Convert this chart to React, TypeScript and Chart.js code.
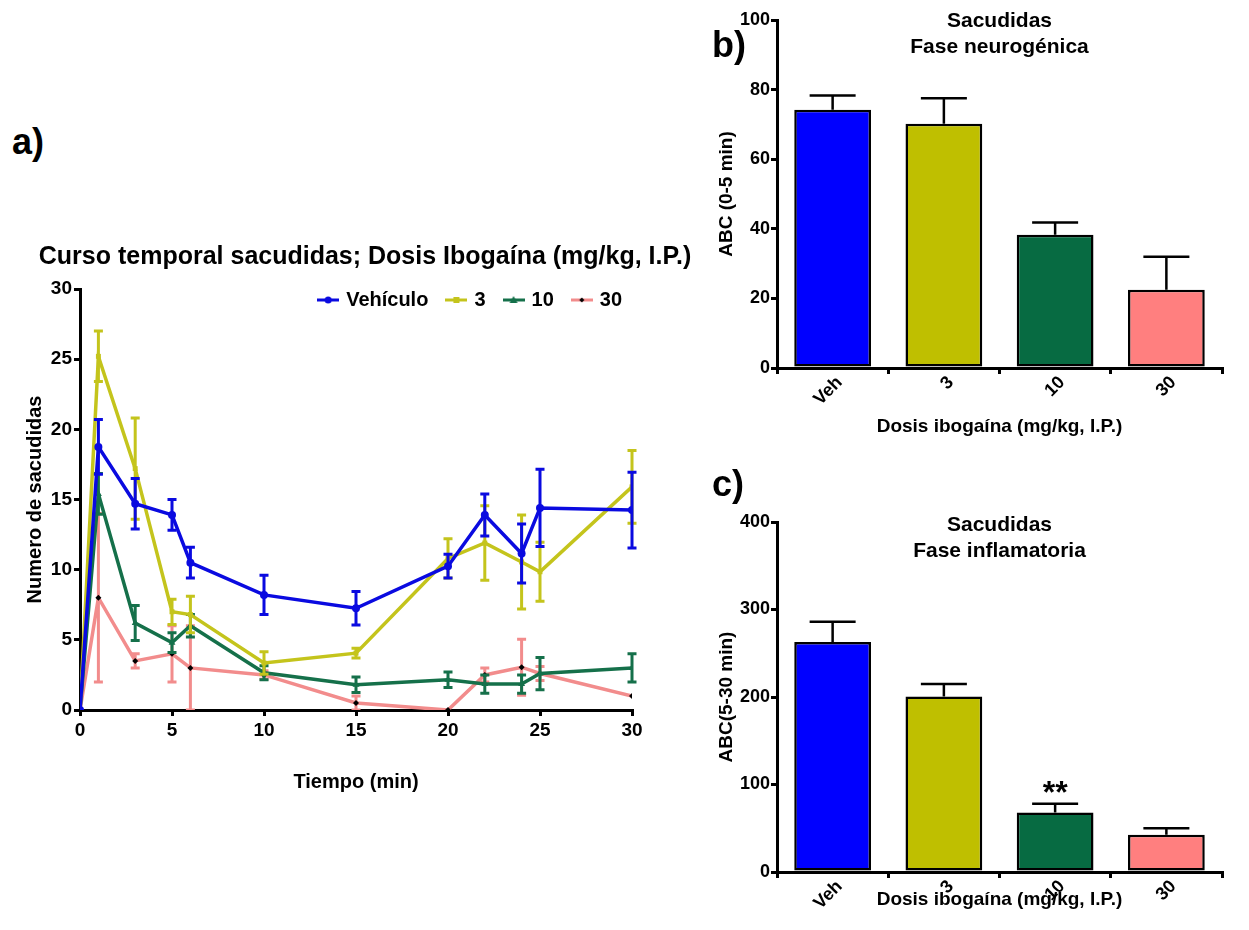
import React, { useEffect, useRef } from 'react';
import { Chart, registerables } from 'chart.js';

Chart.register(...registerables);

const FONT = '"Liberation Sans", Arial, Helvetica, sans-serif';
Chart.defaults.font.family = FONT;
Chart.defaults.color = '#000';

// ---------- Panel a) time course ----------
const timePoints = [0, 1, 3, 5, 6, 10, 15, 20, 22, 24, 25, 30];
const seriesNames = ['Vehículo', '3', '10', '30'];
const vehiculoMean = [0, 18.75, 14.7, 13.9, 10.5, 8.2, 7.25, 10.25, 13.9, 11.15, 14.4, 14.25];
const vehiculoSem = [0, 1.95, 1.8, 1.1, 1.1, 1.4, 1.2, 0.85, 1.5, 2.1, 2.75, 2.7];
const dosis3Mean = [0, 25.2, 17.2, 7.0, 6.8, 3.35, 4.05, 10.8, 11.9, 10.55, 9.85, 15.9];
const dosis3Sem = [0, 1.8, 3.6, 0.9, 1.3, 0.8, 0.35, 1.4, 2.65, 3.35, 2.1, 2.6];
const dosis10Mean = [0, 15.4, 6.2, 4.8, 6.0, 2.65, 1.8, 2.15, 1.85, 1.85, 2.6, 3.0];
const dosis10Sem = [0, 1.45, 1.25, 0.7, 0.8, 0.5, 0.55, 0.55, 0.65, 0.65, 1.15, 1.0];
const dosis30Mean = [0, 8.0, 3.5, 4.0, 3.0, 2.5, 0.5, 0, 2.5, 3.05, 2.6, 1.0];
const dosis30Sem = [0, 6.0, 0.5, 2.0, 3.0, 0.3, 0.5, 0, 0.5, 2.0, 0.5, 0];
const timeTicks = [0, 5, 10, 15, 20, 25, 30];
const countTicks = [0, 5, 10, 15, 20, 25, 30];

// ---------- Panels b) and c) ----------
const doseLabels = ['Veh', '3', '10', '30'];
const neuroMean = [74.2, 70.2, 38.3, 22.5];
const neuroSem = [4.1, 7.3, 3.5, 9.5];
const inflamMean = [263, 200.5, 68, 42.5];
const inflamSem = [23, 14.5, 10, 7.5];
const inflamSig = ['', '', '**', ''];

const lineColors = ['#0a0ae0', '#c4c41c', '#15704a', '#f28c8c'];
const pointColors = ['#0a0ae0', '#c4c41c', '#15704a', '#000000'];
const pointStyles = ['circle', 'rect', 'triangle', 'rectRot'];
const pointRadii = [4, 3.5, 4, 3];
const barColors = ['#0000ff', '#bfbf00', '#076b42', '#ff7f7f'];

function valueOf(v: any) {
  return v !== null && typeof v === 'object' ? v.y : v;
}

function drawErrors(chart: any, index: number, meta: any, opts: any) {
  const ds: any = chart.data.datasets[index];
  const errs = ds.errors;
  if (!errs) return;
  const yScale = chart.scales[meta.yAxisID];
  const ctx = chart.ctx;
  const area = chart.chartArea;
  ctx.save();
  ctx.beginPath();
  ctx.rect(area.left - 20, area.top - 20, area.right - area.left + 40, area.bottom - area.top + 20);
  ctx.clip();
  ctx.lineWidth = opts.lineWidth || 3;
  ctx.lineCap = 'butt';
  meta.data.forEach((el: any, i: number) => {
    const e = errs[i];
    if (!e) return;
    const v = valueOf(ds.data[i]);
    const x = el.x;
    const cap = opts.cap || 4;
    const yTop = yScale.getPixelForValue(v + e);
    const yBase = opts.upOnly ? el.y : yScale.getPixelForValue(Math.max(0, v - e));
    const color = opts.color || (Array.isArray(ds.borderColor) ? ds.borderColor[i] : ds.borderColor);
    ctx.strokeStyle = color;
    ctx.beginPath();
    ctx.moveTo(x, yBase);
    ctx.lineTo(x, yTop);
    ctx.moveTo(x - cap, yTop);
    ctx.lineTo(x + cap, yTop);
    if (!opts.upOnly) {
      ctx.moveTo(x - cap, yBase);
      ctx.lineTo(x + cap, yBase);
    }
    ctx.stroke();
  });
  ctx.restore();
}

const errorBarsPlugin = {
  id: 'errorBars',
  beforeDatasetDraw(chart: any, args: any, opts: any) {
    if (opts.mode === 'line') drawErrors(chart, args.index, args.meta, opts);
  },
  afterDatasetDraw(chart: any, args: any, opts: any) {
    if (opts.mode === 'bar') drawErrors(chart, args.index, args.meta, opts);
  },
};

const overlayTitlePlugin = {
  id: 'overlayTitle',
  afterDraw(chart: any, _args: any, opts: any) {
    if (!opts.lines) return;
    const ctx = chart.ctx;
    const area = chart.chartArea;
    ctx.save();
    ctx.font = `bold ${opts.size}px ${FONT}`;
    ctx.fillStyle = '#000';
    ctx.textAlign = 'center';
    ctx.textBaseline = 'middle';
    const x = opts.x !== undefined ? opts.x : (area.left + area.right) / 2;
    opts.lines.forEach((line: string, i: number) => {
      ctx.fillText(line, x, opts.y + i * (opts.gap || 0));
    });
    ctx.restore();
  },
};

const sigPlugin = {
  id: 'sigMarks',
  afterDatasetsDraw(chart: any, _args: any, opts: any) {
    if (!opts.labels) return;
    const meta = chart.getDatasetMeta(0);
    const ds: any = chart.data.datasets[0];
    const yScale = chart.scales[meta.yAxisID];
    const ctx = chart.ctx;
    ctx.save();
    ctx.font = `bold ${opts.size}px ${FONT}`;
    ctx.fillStyle = '#000';
    ctx.textAlign = 'center';
    ctx.textBaseline = 'alphabetic';
    meta.data.forEach((el: any, i: number) => {
      const lab = opts.labels[i];
      if (!lab) return;
      const top = yScale.getPixelForValue(valueOf(ds.data[i]) + (ds.errors ? ds.errors[i] : 0));
      ctx.fillText(lab, el.x, top - opts.gap);
    });
    ctx.restore();
  },
};

// Legend drawn inside the plot area (top right), one row
const insideLegendPlugin = {
  id: 'insideLegend',
  afterDraw(chart: any, _args: any, opts: any) {
    if (!opts.icons) return;
    const ctx = chart.ctx;
    ctx.save();
    ctx.font = `bold ${opts.size}px ${FONT}`;
    const items = chart.data.datasets.map((ds: any, i: number) => ({
      text: ds.label,
      icon: opts.icons[i],
      w: opts.iconWidth + opts.iconGap + ctx.measureText(ds.label).width,
    }));
    const total = items.reduce((s: number, it: any) => s + it.w, 0) + opts.itemGap * (items.length - 1);
    let x = opts.right - total;
    ctx.fillStyle = '#000';
    ctx.textAlign = 'left';
    ctx.textBaseline = 'middle';
    items.forEach((it: any) => {
      ctx.drawImage(it.icon, x, opts.y - it.icon.height / 2);
      ctx.fillText(it.text, x + opts.iconWidth + opts.iconGap, opts.y);
      x += it.w + opts.itemGap;
    });
    ctx.restore();
  },
};

function makeLegendIcon(color: string, style: string, markColor: string) {
  const c = document.createElement('canvas');
  c.width = 22;
  c.height = 12;
  const ctx = c.getContext('2d') as CanvasRenderingContext2D;
  ctx.strokeStyle = color;
  ctx.lineWidth = 3;
  ctx.beginPath();
  ctx.moveTo(0, 6);
  ctx.lineTo(22, 6);
  ctx.stroke();
  ctx.fillStyle = markColor;
  ctx.beginPath();
  if (style === 'circle') ctx.arc(11, 6, 3.5, 0, Math.PI * 2);
  else if (style === 'rect') ctx.rect(8, 3, 6, 6);
  else if (style === 'triangle') { ctx.moveTo(11, 2); ctx.lineTo(15, 9); ctx.lineTo(7, 9); ctx.closePath(); }
  else { ctx.moveTo(11, 3.5); ctx.lineTo(13.5, 6); ctx.lineTo(11, 8.5); ctx.lineTo(8.5, 6); ctx.closePath(); }
  ctx.fill();
  return c;
}

function fixWidth(w: number) {
  return (scale: any) => {
    scale.width = w;
    scale.paddingTop = 0; scale.paddingBottom = 0; scale.paddingLeft = 0; scale.paddingRight = 0;
  };
}
function fixHeight(h: number) {
  return (scale: any) => {
    scale.height = h;
    scale.paddingTop = 0; scale.paddingBottom = 0; scale.paddingLeft = 0; scale.paddingRight = 0;
  };
}

const axisGrid = { display: true, drawOnChartArea: false, drawTicks: true, tickLength: 6, color: '#000', lineWidth: 3 };
const axisBorder = { display: true, color: '#000', width: 3 };

function lineConfig(): any {
  const means = [vehiculoMean, dosis3Mean, dosis10Mean, dosis30Mean];
  const sems = [vehiculoSem, dosis3Sem, dosis10Sem, dosis30Sem];
  const icons = seriesNames.map((_, i) => makeLegendIcon(lineColors[i], pointStyles[i], pointColors[i]));
  return {
    type: 'line',
    data: {
      datasets: seriesNames.map((name, i) => ({
        label: name,
        data: timePoints.map((t, k) => ({ x: t, y: means[i][k] })),
        errors: sems[i],
        borderColor: lineColors[i],
        backgroundColor: lineColors[i],
        borderWidth: 3.5,
        pointStyle: pointStyles[i],
        pointRadius: pointRadii[i],
        pointBackgroundColor: pointColors[i],
        pointBorderColor: pointColors[i],
        pointBorderWidth: 0,
        tension: 0,
        fill: false,
      })),
    },
    options: {
      responsive: false,
      animation: false,
      layout: { padding: { left: 0, top: 89, right: 98, bottom: 0 } },
      scales: {
        x: {
          type: 'linear',
          min: 0,
          max: 30,
          afterFit: fixHeight(90),
          afterBuildTicks: (s: any) => { s.ticks = timeTicks.map((v) => ({ value: v })); },
          grid: axisGrid,
          border: axisBorder,
          ticks: { font: { size: 19, weight: 'bold' }, padding: 3, color: '#000', maxRotation: 0 },
          title: { display: true, text: 'Tiempo (min)', font: { size: 20, weight: 'bold' }, color: '#000', padding: { top: 0, bottom: 6 } },
        },
        y: {
          type: 'linear',
          min: 0,
          max: 30,
          afterFit: fixWidth(80),
          afterBuildTicks: (s: any) => { s.ticks = countTicks.map((v) => ({ value: v })); },
          grid: axisGrid,
          border: axisBorder,
          ticks: { font: { size: 19, weight: 'bold' }, padding: 2, color: '#000' },
          title: { display: true, text: 'Numero de sacudidas', font: { size: 20, weight: 'bold' }, color: '#000', padding: { top: 23, bottom: 0 } },
        },
      },
      plugins: {
        legend: { display: false },
        tooltip: { enabled: false },
        title: { display: false },
        errorBars: { mode: 'line', lineWidth: 3, cap: 4.5 },
        overlayTitle: { lines: ['Curso temporal sacudidas; Dosis Ibogaína (mg/kg, I.P.)'], size: 25, x: 365, y: 57 },
        insideLegend: { icons, size: 20, iconWidth: 22, iconGap: 7, itemGap: 17, right: 622, y: 100 },
      },
    },
    plugins: [errorBarsPlugin, overlayTitlePlugin, insideLegendPlugin],
  };
}

function barConfig(values: number[], errs: number[], yMax: number, yStep: number, yTitle: string, titleLines: string[], titleY: number, padTop: number, xHeight: number, xTitlePad: number, sig?: string[]): any {
  return {
    type: 'bar',
    data: {
      labels: doseLabels,
      datasets: [{
        data: values,
        errors: errs,
        backgroundColor: barColors,
        borderColor: '#000',
        borderWidth: 2.5,
        borderSkipped: false,
        barPercentage: 0.69,
        categoryPercentage: 1,
      }],
    },
    options: {
      responsive: false,
      animation: false,
      layout: { padding: { left: 0, top: padTop, right: 27, bottom: 0 } },
      scales: {
        x: {
          afterFit: fixHeight(xHeight),
          grid: { ...axisGrid, offset: true },
          border: axisBorder,
          ticks: { font: { size: 18, weight: 'bold' }, padding: -2, labelOffset: 7, color: '#000', minRotation: 45, maxRotation: 45, autoSkip: false },
          title: { display: true, text: 'Dosis ibogaína (mg/kg, I.P.)', font: { size: 19, weight: 'bold' }, color: '#000', padding: { top: 0, bottom: xTitlePad } },
        },
        y: {
          min: 0,
          max: yMax,
          afterFit: fixWidth(77),
          grid: axisGrid,
          border: axisBorder,
          ticks: { stepSize: yStep, font: { size: 18, weight: 'bold' }, padding: 1, color: '#000' },
          title: { display: true, text: yTitle, font: { size: 19, weight: 'bold' }, color: '#000', padding: { top: 15, bottom: 0 } },
        },
      },
      plugins: {
        legend: { display: false },
        tooltip: { enabled: false },
        errorBars: { mode: 'bar', upOnly: true, lineWidth: 2.5, cap: 23, color: '#000' },
        overlayTitle: { lines: titleLines, size: 21, y: titleY, gap: 26 },
        sigMarks: sig ? { labels: sig, size: 32, gap: 1 } : {},
      },
    },
    plugins: [errorBarsPlugin, overlayTitlePlugin, sigPlugin],
  };
}

const panelLabel = (left: number, top: number): React.CSSProperties => ({
  position: 'absolute',
  left,
  top,
  font: `bold 36px ${FONT}`,
  lineHeight: '36px',
  color: '#000',
  margin: 0,
});

export default function App() {
  const refA = useRef<HTMLCanvasElement>(null);
  const refB = useRef<HTMLCanvasElement>(null);
  const refC = useRef<HTMLCanvasElement>(null);

  useEffect(() => {
    const charts: Chart[] = [];
    if (refA.current) charts.push(new Chart(refA.current, lineConfig()));
    if (refB.current) charts.push(new Chart(refB.current, barConfig(neuroMean, neuroSem, 100, 20, 'ABC (0-5 min)', ['Sacudidas', 'Fase neurogénica'], 21, 20, 82, 12)));
    if (refC.current) charts.push(new Chart(refC.current, barConfig(inflamMean, inflamSem, 400, 100, 'ABC(5-30 min)', ['Sacudidas', 'Fase inflamatoria'], 55, 52, 58, 18.5, inflamSig)));
    return () => charts.forEach((c) => c.destroy());
  }, []);

  return (
    <div style={{ position: 'absolute', left: 0, top: 0, width: 1249, height: 930, background: '#fff', overflow: 'hidden' }}>
      <canvas ref={refA} width={730} height={600} style={{ position: 'absolute', left: 0, top: 200, width: 730, height: 600 }} />
      <canvas ref={refB} width={549} height={450} style={{ position: 'absolute', left: 700, top: 0, width: 549, height: 450 }} />
      <canvas ref={refC} width={549} height={460} style={{ position: 'absolute', left: 700, top: 470, width: 549, height: 460 }} />
      <div style={panelLabel(12, 124)}>a)</div>
      <div style={panelLabel(712, 27)}>b)</div>
      <div style={panelLabel(712, 466)}>c)</div>
    </div>
  );
}
